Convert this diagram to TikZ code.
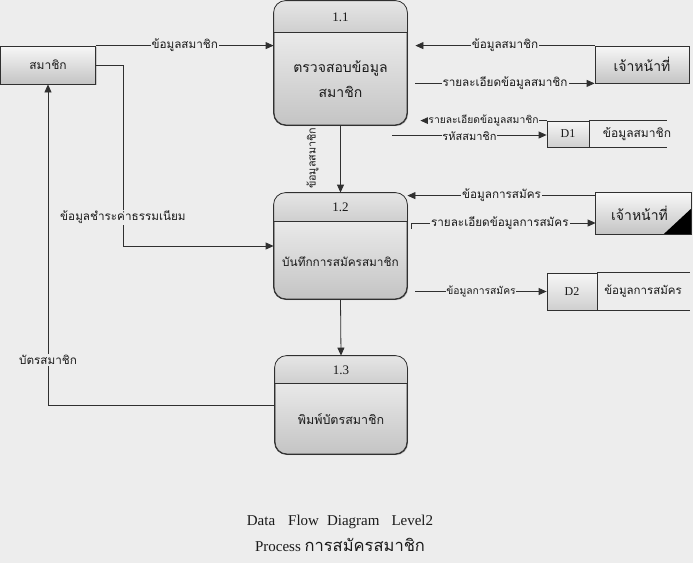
\documentclass[tikz,border=0pt]{standalone}
\usepackage{fontspec}
\setmainfont{Liberation Serif}
\newfontfamily\thai[Script=Thai]{Loma}
\usetikzlibrary{arrows.meta,shadows,calc}
\definecolor{bg}{HTML}{EDEDED}
\definecolor{ln}{HTML}{303030}
\definecolor{txt}{HTML}{1A1A1A}
\definecolor{hdtop}{HTML}{E6E6E6}
\definecolor{hdbot}{HTML}{CFCFCF}
\definecolor{bdtop}{HTML}{F7F7F7}
\definecolor{bdbot}{HTML}{C4C4C4}
\begin{document}
\begin{tikzpicture}[x=1pt,y=-1pt,
  proc/.style={draw=ln, line width=0.8pt, rounded corners=12pt, top color=bdtop, bottom color=bdbot, inner sep=0pt,
    drop shadow={shadow xshift=1.2pt, shadow yshift=-1.2pt, opacity=0.35}},
  ent/.style={draw=ln, line width=0.8pt, top color=bdtop, bottom color=bdbot, inner sep=0pt,
    drop shadow={shadow xshift=1.2pt, shadow yshift=-1.2pt, opacity=0.35}},
  store/.style={draw=ln, line width=0.8pt, top color=bdtop, bottom color=hdbot, inner sep=0pt},
  flow/.style={draw=ln, line width=0.8pt, -{Triangle[length=8pt,width=7pt]}},
  plain/.style={draw=ln, line width=0.8pt},
  lbl/.style={fill=bg, inner sep=1pt, text=txt, font=\thai\fontsize{11.7}{13}\selectfont},
  slbl/.style={fill=bg, inner sep=0.5pt, text=txt, font=\thai\fontsize{10.3}{12}\selectfont},
  ptext/.style={text=txt, align=center},
  pnum/.style={text=txt, font=\fontsize{13}{15}\selectfont},
  etext/.style={text=txt, font=\thai\fontsize{12}{14}\selectfont}
]
\fill[bg] (0,0) rectangle (693,563);
\useasboundingbox (0,0) rectangle (693,563);

% ---------- processes ----------
\node[proc, minimum width=133pt, minimum height=124pt] (p1) at (340.5,63) {};
\node[proc, minimum width=133pt, minimum height=106pt] (p2) at (340.5,246) {};
\node[proc, minimum width=132pt, minimum height=98pt] (p3) at (341,405) {};

\begin{scope}
\clip[rounded corners=12pt] (p1.south west) rectangle (p1.north east);
\shade[top color=hdtop, bottom color=hdbot] (p1.north west) rectangle (p1.east |- 0,32);
\end{scope}
\begin{scope}
\clip[rounded corners=12pt] (p2.south west) rectangle (p2.north east);
\shade[top color=hdtop, bottom color=hdbot] (p2.north west) rectangle (p2.east |- 0,221);
\end{scope}
\begin{scope}
\clip[rounded corners=12pt] (p3.south west) rectangle (p3.north east);
\shade[top color=hdtop, bottom color=hdbot] (p3.north west) rectangle (p3.east |- 0,383);
\end{scope}
\draw[plain, rounded corners=12pt] (p1.south west) rectangle (p1.north east);
\draw[plain, rounded corners=12pt] (p2.south west) rectangle (p2.north east);
\draw[plain, rounded corners=12pt] (p3.south west) rectangle (p3.north east);
\draw[plain] (p1.west |- 0,32) -- (p1.east |- 0,32);
\draw[plain] (p2.west |- 0,221) -- (p2.east |- 0,221);
\draw[plain] (p3.west |- 0,383) -- (p3.east |- 0,383);

\node[pnum] (p1n) at (340.5,17) {1.1};
\node[pnum] (p2n) at (340.5,207) {1.2};
\node[pnum] (p3n) at (341,370) {1.3};
\node[ptext, font=\thai\fontsize{14}{25}\selectfont] (p1t) at (340.5,79) {ตรวจสอบข้อมูล\\สมาชิก};
\node[ptext, font=\thai\fontsize{11.8}{14}\selectfont] (p2t) at (340.5,262) {บันทึกการสมัครสมาชิก};
\node[ptext, font=\thai\fontsize{12.5}{14}\selectfont] (p3t) at (341,419) {พิมพ์บัตรสมาชิก};

% ---------- external entities ----------
\node[ent, minimum width=95pt, minimum height=38pt] (s) at (48,65) {};
\node[etext] (st) at (s) {สมาชิก};
\node[ent, minimum width=94pt, minimum height=37pt] (j1) at (642,64.5) {};
\node[etext, font=\thai\fontsize{14}{16}\selectfont] (j1t) at (j1) {เจ้าหน้าที่};
\node[ent, draw=none, minimum width=95pt, minimum height=41pt] (j2) at (643.5,213.5) {};
\fill[black] (j2.south east) -- ++(-28,0) -- ($(j2.south east)+(0,-26)$) -- cycle;
\draw[plain] (j2.south west) rectangle (j2.north east);
\node[etext, font=\thai\fontsize{14}{16}\selectfont] (j2t) at ($(j2)+(-4,0)$) {เจ้าหน้าที่};

% ---------- data stores ----------
\node[store, minimum width=42pt, minimum height=26pt] (d1) at (568,134) {};
\node[text=txt, font=\fontsize{12}{14}\selectfont] (d1n) at (d1) {D1};
\draw[plain] (d1.north east) -- ++(78,0);
\draw[plain] (d1.south east) -- ++(78,0);
\node[etext] (d1t) at (637,134) {ข้อมูลสมาชิก};

\node[store, minimum width=50pt, minimum height=37pt] (d2) at (572,291.5) {};
\node[text=txt, font=\fontsize{12}{14}\selectfont] (d2n) at (d2) {D2};
\draw[plain] (d2.north east) -- ++(93,0);
\draw[plain] (d2.south east) -- ++(93,0);
\node[etext, font=\thai\fontsize{11.5}{14}\selectfont] (d2t) at (643,291.5) {ข้อมูลการสมัคร};

% ---------- flows ----------
\draw[flow] (s.north east) -- (s.north east -| p1.west)
  node[lbl, midway] (l1) {ข้อมูลสมาชิก};
\coordinate (b2) at ($(s.east)+(27,0)$);
\draw[flow] (s.east) -- (b2) |- (p2.west)
  node[lbl, pos=0.42] (l2) {ข้อมูลชำระค่าธรรมเนียม};
\draw[flow] (p3.west) -| (s.south)
  node[lbl, pos=0.57] (l3) {บัตรสมาชิก};

\draw[flow] (j1.north west) -- ($(j1.north west -| p1.east)+(8,0)$)
  node[lbl, midway] (l4) {ข้อมูลสมาชิก};
\draw[flow] ($(j1.south west -| p1.east)+(8,0)$) -- (j1.south west)
  node[lbl, midway] (l5) {รายละเอียดข้อมูลสมาชิก};

\draw[flow] (d1.north west) -- ($(d1.north west -| p1.east)+(13,0)$)
  node[slbl, midway] (l6) {รายละเอียดข้อมูลสมาชิก};
\draw[flow] ($(d1.west -| p1.east)+(-15,1)$) -- ($(d1.west)+(0,1)$)
  node[slbl, midway, yshift=-1.5pt, font=\thai\fontsize{11}{12}\selectfont] (l7) {รหัสสมาชิก};

\draw[flow] (p1.south) -- (p2.north);
\node[slbl, rotate=90, font=\thai\fontsize{10.8}{12}\selectfont] (l8) at ($(p1.south)!0.49!(p2.north)+(-28,0)$) {ข้อมูลสมาชิก};

\draw[flow] ($(j2.north west)+(0,3)$) -- ($(j2.north west -| p2.east)+(0,3)$)
  node[lbl, midway] (l9) {ข้อมูลการสมัคร};
\coordinate (c10) at ($(p2.north east)+(4,36)$);
\draw[flow] (c10) |- ($(j2.west)+(0,9.5)$)
  node[lbl, pos=0.74] (l10) {รายละเอียดข้อมูลการสมัคร};

\draw[flow] ($(p2.east |- d2.west)+(8,0)$) -- (d2.west)
  node[slbl, midway] (l11) {ข้อมูลการสมัคร};

\draw[flow] (p2.south) -- (p3.north);

% ---------- caption ----------
\node[text=txt, font=\fontsize{15}{18}\selectfont] (cap1) at (340,522)
  {Data\hspace{13pt}Flow\hspace{8pt}Diagram\hspace{12pt}Level2};
\node[text=txt, font=\fontsize{15}{18}\selectfont] (cap2) at (340,545)
  {Process {\thai\fontsize{16.5}{18}\selectfont การสมัครสมาชิก}};
\end{tikzpicture}
\end{document}
